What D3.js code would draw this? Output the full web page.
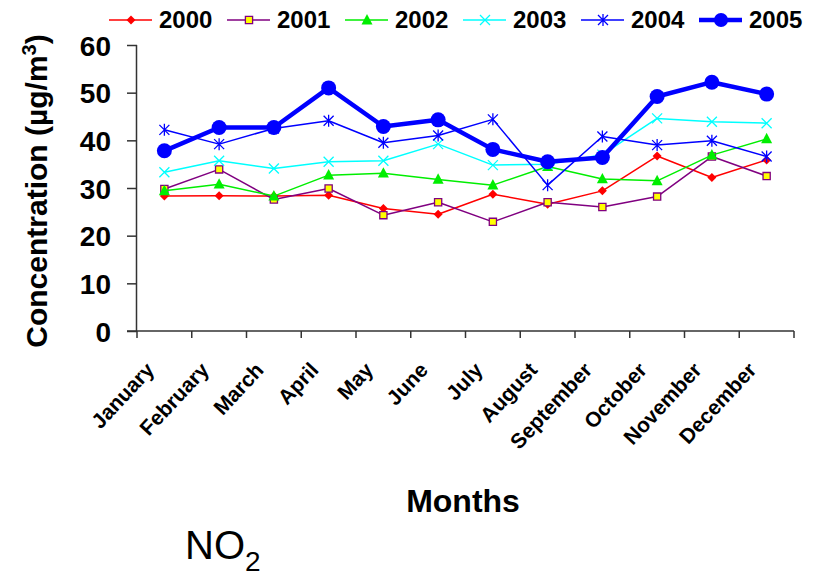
<!DOCTYPE html>
<html><head><meta charset="utf-8">
<script src="https://cdn.jsdelivr.net/npm/d3@7"></script>
<style>body{margin:0;background:#fff}svg{display:block}text{font-family:Arial,"Liberation Sans",sans-serif}</style>
</head><body><svg id="c" width="817" height="581"></svg>
<script>
const months = ["January","February","March","April","May","June","July","August","September","October","November","December"];
const years = ["2000","2001","2002","2003","2004","2005"];
const v2000 = [28.3,28.4,28.3,28.5,25.7,24.5,28.7,26.6,29.4,36.7,32.2,35.9];
const v2001 = [29.8,33.9,27.6,29.9,24.3,27.0,22.9,27.0,26.0,28.2,36.6,32.5];
const v2002 = [29.4,30.8,28.3,32.7,33.1,31.8,30.6,34.5,31.9,31.5,36.9,40.3];
const v2003 = [33.3,35.7,34.1,35.5,35.7,39.2,34.8,35.0,37.0,44.6,43.9,43.6];
const v2004 = [42.2,39.2,42.5,44.1,39.5,41.0,44.4,30.6,40.8,39.0,39.9,36.6];
const v2005 = [37.8,42.7,42.7,51.0,42.9,44.3,38.1,35.5,36.4,49.2,52.2,49.7];
const yTicks = [0,10,20,30,40,50,60];
const seriesValues = [v2000,v2001,v2002,v2003,v2004,v2005];

const styles = [
  {color:"#ff0000", width:1.5, marker:"diamond"},
  {color:"#800080", width:1.5, marker:"square"},
  {color:"#00ee00", width:1.5, marker:"triangle"},
  {color:"#00ffff", width:1.5, marker:"x"},
  {color:"#0000ff", width:1.5, marker:"asterisk"},
  {color:"#0000ff", width:4.5, marker:"circle"}
];

const svg = d3.select("#c");
const L = 137, R = 794, T = 45, B = 331;
const x = d3.scaleBand().domain(months).range([L, R]);
const y = d3.scaleLinear().domain([0, 60]).range([B, T]);

// axes
const yAxis = d3.axisLeft(y).tickValues(yTicks).tickSize(10).tickPadding(16);
const gy = svg.append("g").attr("transform", `translate(${L},0)`).call(yAxis);
gy.attr("font-size", null).attr("font-family", null);
gy.selectAll("text").style("font-size","28px").style("font-weight","bold").attr("fill","#000").attr("dy","0.36em");
gy.selectAll("line,path").attr("stroke","#333").attr("stroke-width",1.5);
gy.select("path.domain").attr("d", `M-0.5,${B}V${T}`);

const gx = svg.append("g").attr("transform", `translate(0,${B})`);
gx.append("line").attr("x1",L-10).attr("x2",R).attr("y1",0).attr("y2",0).attr("stroke","#333").attr("stroke-width",1.5);
const bounds = months.map(m => x(m)).concat([R]);
gx.selectAll("line.t").data(bounds).join("line").attr("class","t")
  .attr("x1",d=>d).attr("x2",d=>d).attr("y1",0).attr("y2",7).attr("stroke","#333").attr("stroke-width",1.5);
gx.selectAll("text").data(months).join("text")
  .attr("transform", d => `translate(${x(d)+x.bandwidth()/2-9},${40}) rotate(-47)`)
  .attr("text-anchor","end")
  .style("font-size","21px").style("font-weight","bold").text(d=>d);

// marker generator
function markerPath(type, s) {
  switch(type){
    case "diamond": return `M0,${-s}L${s},0L0,${s}L${-s},0Z`;
    case "square": return `M${-s},${-s}H${s}V${s}H${-s}Z`;
    case "triangle": return `M0,${-s*1.1}L${s},${s*0.8}L${-s},${s*0.8}Z`;
    case "x": return `M${-s},${-s}L${s},${s}M${-s},${s}L${s},${-s}`;
    case "asterisk": return `M${-s},${-s}L${s},${s}M${-s},${s}L${s},${-s}M0,${-s*1.2}L0,${s*1.2}`;
  }
}
function drawMarker(g, st, cx, cy, legend) {
  if (st.marker === "circle") {
    g.append("circle").attr("cx",cx).attr("cy",cy).attr("r",legend?7:7.5).attr("fill",st.color);
  } else if (st.marker === "diamond") {
    g.append("path").attr("transform",`translate(${cx},${cy})`).attr("d",markerPath("diamond",4.5)).attr("fill",st.color);
  } else if (st.marker === "square") {
    g.append("path").attr("transform",`translate(${cx},${cy})`).attr("d",markerPath("square",3.6)).attr("fill","#ffff00").attr("stroke",st.color).attr("stroke-width",1.3);
  } else if (st.marker === "triangle") {
    g.append("path").attr("transform",`translate(${cx},${cy})`).attr("d",markerPath("triangle",5.5)).attr("fill",st.color);
  } else {
    g.append("path").attr("transform",`translate(${cx},${cy})`).attr("d",markerPath(st.marker,5)).attr("fill","none").attr("stroke",st.color).attr("stroke-width",1.3);
  }
}

const line = d3.line().x((d,i)=>x(months[i])+x.bandwidth()/2).y(d=>y(d));
seriesValues.forEach((vals, k) => {
  const st = styles[k];
  const g = svg.append("g");
  g.append("path").datum(vals).attr("d", line).attr("fill","none").attr("stroke",st.color).attr("stroke-width",st.width).attr("stroke-linejoin","round");
  vals.forEach((v,i) => drawMarker(g, st, x(months[i])+x.bandwidth()/2, y(v), false));
});

// legend
const lg = svg.append("g");
years.forEach((yr,k) => {
  const st = styles[k];
  const x0 = 109 + k*118, ly = 20;
  lg.append("line").attr("x1",x0).attr("x2",x0+43).attr("y1",ly).attr("y2",ly).attr("stroke",st.color).attr("stroke-width",st.width);
  drawMarker(lg, st, x0+22, ly, true);
  lg.append("text").attr("x",x0+50).attr("y",28).style("font-size","24px").style("font-weight","bold").text(yr);
});

// titles
svg.append("text").attr("transform","translate(47,191) rotate(-90)").attr("text-anchor","middle")
  .style("font-size","30px").style("font-weight","bold")
  .html('Concentration (µg/m<tspan dy="-11" style="font-size:20px">3</tspan><tspan dy="11">)</tspan>');
svg.append("text").attr("x",463).attr("y",512).attr("text-anchor","middle").style("font-size","32px").style("font-weight","bold").text("Months");
svg.append("text").attr("x",185).attr("y",559).style("font-size","40px")
  .html('NO<tspan dy="12" style="font-size:28px">2</tspan>');
</script></body></html>
